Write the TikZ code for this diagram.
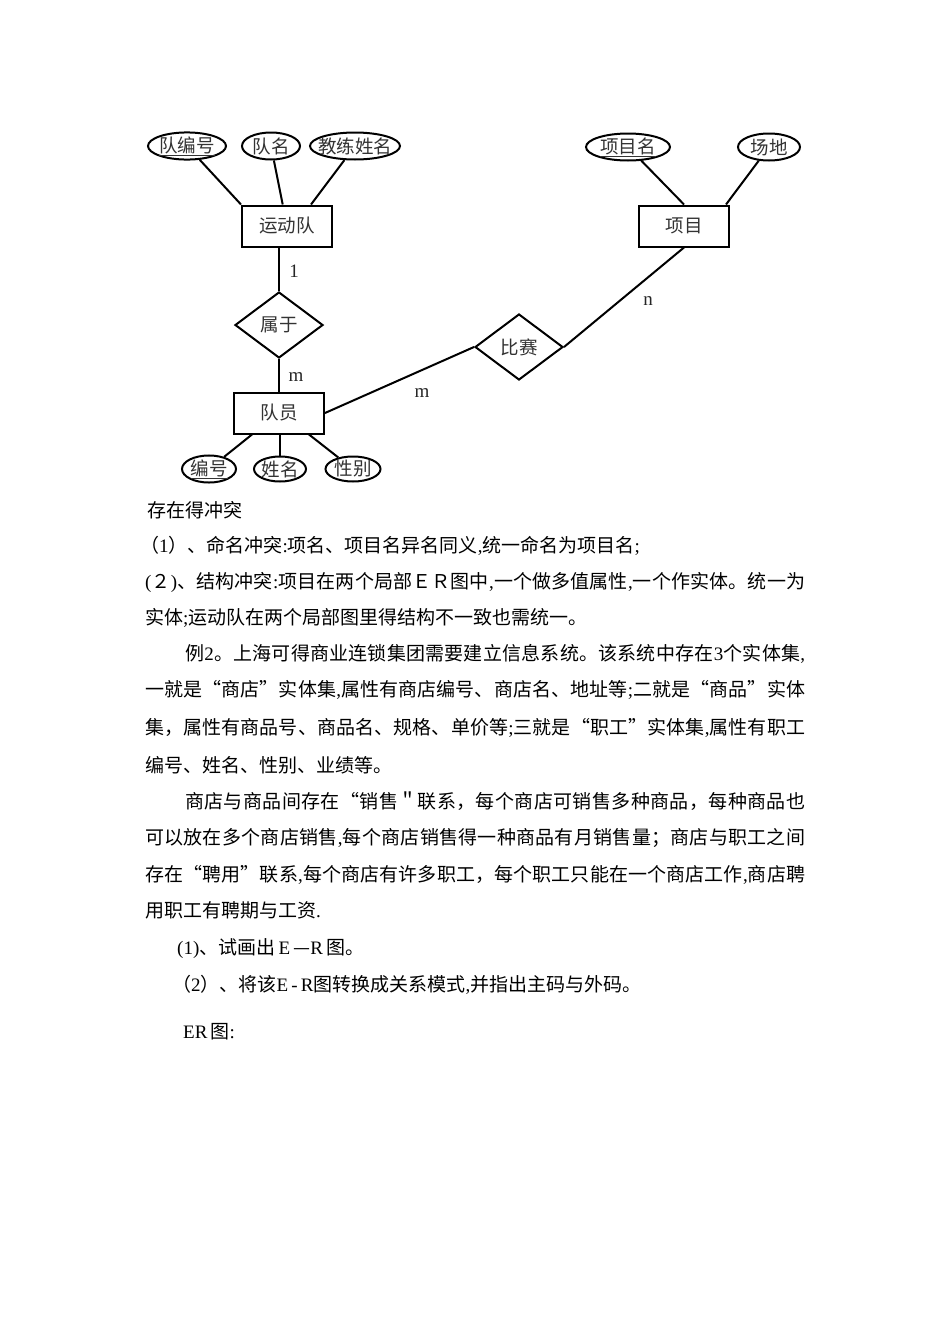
\documentclass[tikz,border=0pt]{standalone}
\usepackage{fontspec}
\setmainfont{Liberation Serif}
\newfontfamily\cjk{Noto Sans CJK SC}
\usetikzlibrary{shapes.geometric}
\makeatletter
\newcommand\jline[2]{\hbox to #1{\@tfor\jl@c:=#2\do{\jl@c\hskip 0pt plus 1fil minus 1.5pt}\unskip}}
\makeatother
\newcommand\ltn[1]{{\rmfamily #1}}
\tikzset{
  lab/.style={font=\cjk\fontsize{18.5}{20}\selectfont, text=black!80},
  ent/.style={lab, draw, line width=2pt, minimum width=90pt, minimum height=41pt, inner sep=0pt},
  attr/.style={lab, draw, ellipse, line width=2pt, inner sep=0pt, minimum height=27pt},
  rel/.style={lab, draw, diamond, line width=2pt, inner sep=0pt, minimum width=88pt, minimum height=66pt},
  conn/.style={line width=2pt},
  card/.style={font=\rmfamily\fontsize{19}{19}\selectfont, text=black!85, inner sep=0pt},
  body/.style={anchor=base west, inner sep=0pt, font=\cjk\fontsize{19}{19}\selectfont}
}
\begin{document}
\begin{tikzpicture}[x=1pt,y=-1pt]
\fill[white] (0,0) rectangle (950,1344);
\useasboundingbox (0,0) rectangle (950,1344);

% entities
\node[ent] (yd) at (287,226) {运动队};
\node[ent] (xm) at (684,226) {项目};
\node[ent] (dy) at (279,413) {队员};
% relationships
\node[rel] (sy) at (279,325) {属于};
\node[rel] (bs) at (519,347) {比赛};
% attributes
\node[attr, minimum width=78pt] (a1) at (187,146) {\makebox[0pt]{\underline{队编号}}};
\node[attr, minimum width=58pt] (a2) at (271,146) {\makebox[0pt]{队名}};
\node[attr, minimum width=90pt] (a3) at (355,146) {\makebox[0pt]{教练姓名}};
\node[attr, minimum width=84pt] (p1) at (628,147) {\makebox[0pt]{\underline{项目名}}};
\node[attr, minimum width=62pt] (p2) at (769,147) {\makebox[0pt]{场地}};
\node[attr, minimum width=54pt, minimum height=25pt] (e1) at (209,469) {\makebox[0pt]{\underline{编号}}};
\node[attr, minimum width=52pt, minimum height=25pt] (e2) at (280,469) {\makebox[0pt]{姓名}};
\node[attr, minimum width=55pt, minimum height=25pt] (e3) at (353,469) {\makebox[0pt]{性别}};

% connectors
\draw[conn] (a1) -- (yd.north west);
\draw[conn] (a2) -- (yd);
\draw[conn] (a3) -- ([xshift=-22pt]yd.north east);
\draw[conn] (p1) -- (xm.north);
\draw[conn] (p2) -- ([xshift=-4pt]xm.north east);
\draw[conn] (sy.north) -- (sy.north |- yd.south);
\draw[conn] (sy.south) -- (dy.north);
\draw[conn] (dy.east) -- (bs.west);
\draw[conn] (bs.east) -- (xm.south);
\draw[conn] (e1) -- ([xshift=19pt]dy.south west);
\draw[conn] (e2) -- (e2 |- dy.south);
\draw[conn] (e3) -- ([xshift=-16pt]dy.south east);

% cardinalities
\node[card] (c1) at (294,271) {1};
\node[card] (c2) at (296,377) {m};
\node[card] (c3) at (422,393) {m};
\node[card] (c4) at (648,301) {n};

% body text
\node[body] (t1) at (147,517) {存在得冲突};
\node[body] (t2) at (140,552) {（\ltn{1}）、命名冲突\ltn{:}项名、项目名异名同义\ltn{,}统一命名为项目名\ltn{;}};
\node[body] (t3) at (145,588) {\jline{660pt}{{\ltn{(}}２{\ltn{)}}、结构冲突{\ltn{:}}项目在两个局部ＥＲ图中{\ltn{,}}一个做多值属性{\ltn{,}}一个作实体。统一为}};
\node[body] (t4) at (145,624) {实体\ltn{;}运动队在两个局部图里得结构不一致也需统一。};
\node[body] (t5) at (185,660) {\jline{620pt}{例{\ltn{2}}。上海可得商业连锁集团需要建立信息系统。该系统中存在{\ltn{3}}个实体集{\ltn{,}}}};
\node[body] (t6) at (145,696) {\jline{660pt}{一就是“商店”实体集{\ltn{,}}属性有商店编号、商店名、地址等{\ltn{;}}二就是“商品”实体}};
\node[body] (t7) at (145,734) {\jline{660pt}{集，属性有商品号、商品名、规格、单价等{\ltn{;}}三就是“职工”实体集{\ltn{,}}属性有职工}};
\node[body] (t8) at (145,772) {编号、姓名、性别、业绩等。};
\node[body] (t9) at (185,808) {\jline{620pt}{商店与商品间存在“销售＂联系，每个商店可销售多种商品，每种商品也}};
\node[body] (t10) at (145,844) {\jline{660pt}{可以放在多个商店销售{\ltn{,}}每个商店销售得一种商品有月销售量；商店与职工之间}};
\node[body] (t11) at (145,881) {\jline{660pt}{存在“聘用”联系{\ltn{,}}每个商店有许多职工，每个职工只能在一个商店工作{\ltn{,}}商店聘}};
\node[body] (t12) at (145,917) {用职工有聘期与工资\ltn{.}};
\node[body] (t13) at (177,954) {\ltn{(1)}、试画出\,\ltn{E}\,—\ltn{R}\,图。};
\node[body] (t14) at (172,991) {（\ltn{2}）、将该\ltn{E\,-\,R}图转换成关系模式\ltn{,}并指出主码与外码。};
\node[body] (t15) at (183,1038) {\ltn{ER}\,图\ltn{:}};
\end{tikzpicture}
\end{document}
